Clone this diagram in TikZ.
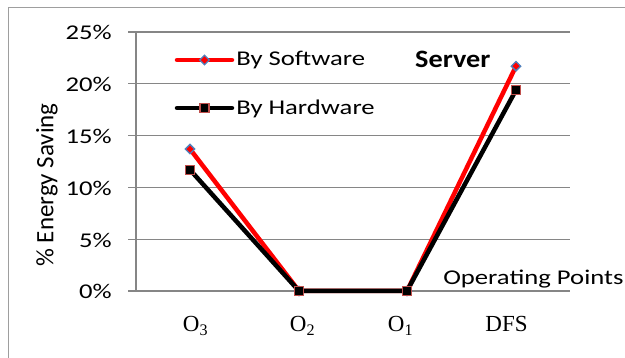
\documentclass[tikz,border=0pt]{standalone}
\usepackage{fontspec}
\setmainfont{Carlito}
\newfontfamily\catfont{Liberation Serif}
\usetikzlibrary{shapes.geometric}
\definecolor{swred}{RGB}{255,0,0}
\definecolor{mkblue}{RGB}{79,129,189}
\definecolor{mkbrown}{RGB}{192,80,77}
\definecolor{gridgray}{RGB}{134,134,134}

\begin{document}
\begin{tikzpicture}[x=1pt,y=-1pt,
    grid/.style={gridgray,line width=1.3pt},
    tick/.style={font=\fontsize{21}{24}\selectfont,anchor=base east,
                 inner sep=0pt,xscale=1.27},
    cat/.style={font=\catfont\fontsize{23}{26}\selectfont,anchor=base,inner sep=0pt},
    lbl/.style={font=\fontsize{21}{24}\selectfont,inner sep=0pt,xscale=1.27},
    swline/.style={swred,line width=4.5pt,line join=round,line cap=round},
    hwline/.style={black,line width=4.5pt,line join=round,line cap=round},
    swmark/.style={diamond,draw=mkblue,fill=swred,line width=1.3pt,
                   minimum size=10pt,inner sep=0pt},
    hwmark/.style={rectangle,draw=mkbrown,fill=black,line width=1.3pt,
                   minimum size=9pt,inner sep=0pt}]
  \useasboundingbox (0,0) rectangle (625,358);
  % outer frame
  \draw[gridgray!80,line width=1pt] (8,358) -- (8,7.5) -- (625,7.5);
  % grid and value labels
  \foreach \v in {0,5,...,25} {
    \draw[grid] (128,{291-10.36*\v}) -- (570,{291-10.36*\v});
    \node[tick] (t\v) at (112,{299-10.36*\v}) {\v\%};
  }
  \draw[grid] (136,291) -- (136,32);
  % categories
  \node[cat] (c3) at (195.5,332) {O\textsubscript{3}};
  \node[cat] (c2) at (302.5,332) {O\textsubscript{2}};
  \node[cat] (c1) at (400.5,332) {O\textsubscript{1}};
  \node[cat] (cd) at (506.5,332) {DFS};
  % axis titles
  \node[font=\fontsize{25}{28}\selectfont,inner sep=0pt,rotate=90]
    (ylab) at (47,185) {\% Energy Saving};
  \node[lbl,anchor=base west] (xlab) at (443,285) {Operating Points};
  \node[lbl,anchor=base west,xscale=0.89,font=\fontsize{25}{28}\selectfont\bfseries]
    (title) at (415,67.5) {Server};
  % data points
  \coordinate (s1) at (190,{291-10.36*13.7});
  \coordinate (s2) at (299,291);
  \coordinate (s3) at (407,291);
  \coordinate (s4) at (516,{291-10.36*21.7});
  \coordinate (h1) at (190,{291-10.36*11.7});
  \coordinate (h2) at (299,291);
  \coordinate (h3) at (407,291);
  \coordinate (h4) at (516,{291-10.36*19.4});
  % by software
  \draw[swline] (s1) -- (s2) -- (s3) -- (s4);
  \foreach \p in {s1,s2,s3,s4}
    \node[swmark] (m\p) at (\p) {};
  % by hardware
  \draw[hwline] (h1) -- (h2) -- (h3) -- (h4);
  \foreach \p in {h1,h2,h3,h4}
    \node[hwmark] (m\p) at (\p) {};
  % legend
  \coordinate (swa) at (177,60);
  \coordinate (swb) at (232,60);
  \coordinate (hwa) at (177,108);
  \coordinate (hwb) at (232,108);
  \draw[swline] (swa) -- (swb);
  \node[swmark] (swkey) at (204.5,60) {};
  \node[lbl,anchor=base west] (swtxt) at (236,66) {By Software};
  \draw[hwline] (hwa) -- (hwb);
  \node[hwmark] (hwkey) at (204.5,108) {};
  \node[lbl,anchor=base west] (hwtxt) at (236,115) {By Hardware};
\end{tikzpicture}
\end{document}
